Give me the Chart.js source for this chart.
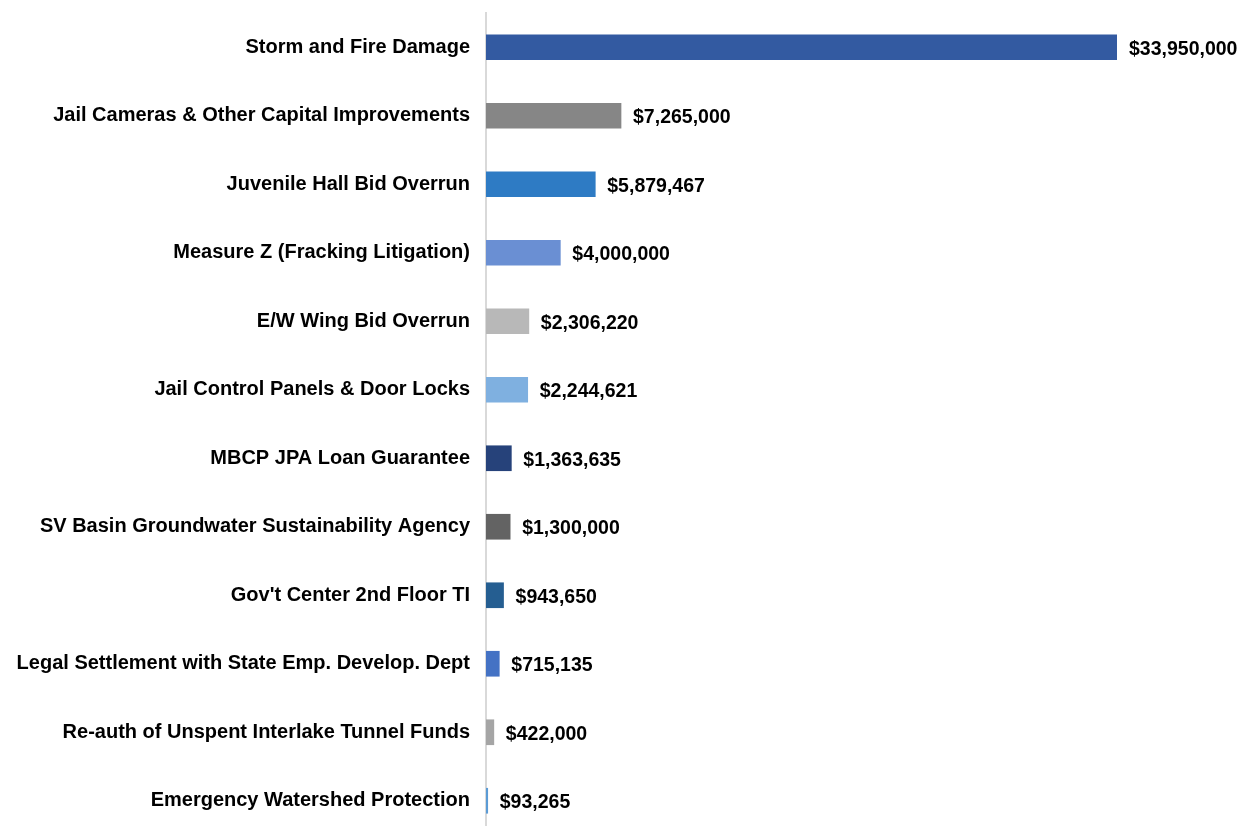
<!DOCTYPE html>
<html>
<head>
<meta charset="utf-8">
<script src="https://cdn.jsdelivr.net/npm/chart.js@4/dist/chart.umd.min.js"></script>
<style>
html,body{margin:0;padding:0;background:#fff;overflow:hidden;}
#wrap{width:1242px;height:836px;position:relative;}
</style>
</head>
<body>
<div id="wrap"><canvas id="c"></canvas></div>
<script>
const categories = [
  "Storm and Fire Damage",
  "Jail Cameras & Other Capital Improvements",
  "Juvenile Hall Bid Overrun",
  "Measure Z (Fracking Litigation)",
  "E/W Wing Bid Overrun",
  "Jail Control Panels & Door Locks",
  "MBCP JPA Loan Guarantee",
  "SV Basin Groundwater Sustainability Agency",
  "Gov't Center 2nd Floor TI",
  "Legal Settlement with State Emp. Develop. Dept",
  "Re-auth of Unspent Interlake Tunnel Funds",
  "Emergency Watershed Protection"
];
const amounts = [33950000, 7265000, 5879467, 4000000, 2306220, 2244621, 1363635, 1300000, 943650, 715135, 422000, 93265];
const barColors = ["#335AA1","#868686","#2E7BC4","#6A8FD3","#B8B8B8","#7FB0E0","#26427A","#636363","#255E91","#4472C4","#A5A5A5","#5B9BD5"];

const fmt = v => "$" + v.toLocaleString("en-US");

const valueLabels = {
  id: "valueLabels",
  afterDatasetsDraw(chart) {
    const ctx = chart.ctx;
    const meta = chart.getDatasetMeta(0);
    ctx.save();
    ctx.font = "bold 19.5px 'Liberation Sans', Arial, sans-serif";
    ctx.fillStyle = "#000";
    ctx.textAlign = "left";
    ctx.textBaseline = "middle";
    meta.data.forEach((bar, i) => {
      ctx.fillText(fmt(amounts[i]), bar.x + 12, bar.y + 2);
    });
    ctx.restore();
  }
};

new Chart(document.getElementById("c"), {
  type: "bar",
  data: {
    labels: categories,
    datasets: [{
      data: amounts,
      backgroundColor: barColors,
      borderWidth: 0,
      barThickness: 25
    }]
  },
  options: {
    indexAxis: "y",
    responsive: true,
    maintainAspectRatio: false,
    animation: false,
    layout: { padding: { top: 13, bottom: 1, left: 0, right: 125 } },
    plugins: { legend: { display: false }, tooltip: { enabled: false } },
    scales: {
      x: {
        display: false,
        min: 0,
        max: Math.max(...amounts)
      },
      y: {
        afterFit(s) { s.width = 486; s.paddingTop = 0; s.paddingBottom = 0; },
        grid: { display: false, drawTicks: false },
        border: { display: true, color: "#D9D9D9", width: 2 },
        ticks: {
          padding: 16,
          color: "#000",
          font: { family: "'Liberation Sans', Arial, sans-serif", size: 20, weight: "bold" }
        }
      }
    }
  },
  plugins: [valueLabels]
});
</script>
</body>
</html>
